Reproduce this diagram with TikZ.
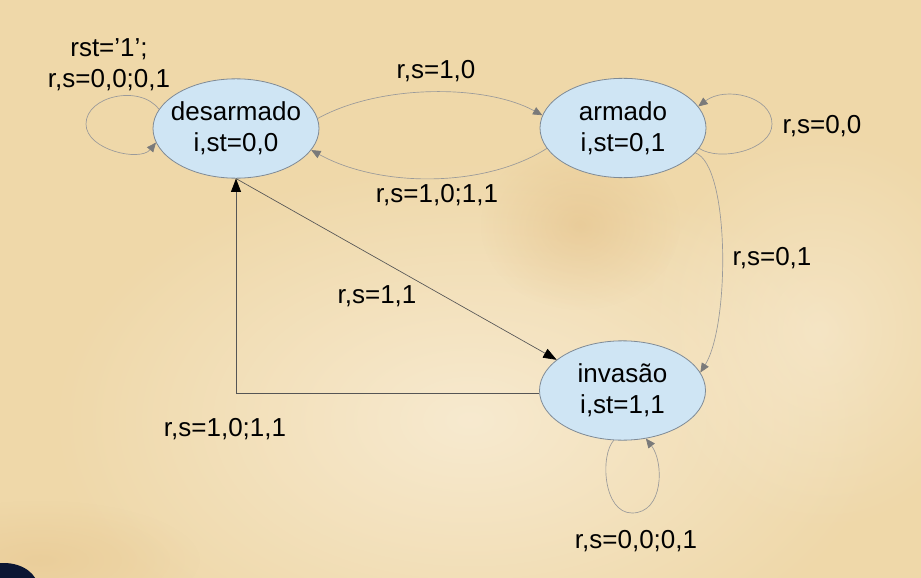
\documentclass[tikz,border=0pt]{standalone}
\usepackage{fontspec}
\setmainfont{Liberation Sans}
\usetikzlibrary{arrows.meta,shapes.geometric,fadings}
\tikzfading[name=softfade, inner color=transparent!0, outer color=transparent!100]
\definecolor{parch}{HTML}{EFD8A9}
\definecolor{parchlight}{HTML}{FAF0DC}
\definecolor{parchdark}{HTML}{DDB070}
\definecolor{statefill}{HTML}{CFE5F4}
\definecolor{stateline}{HTML}{7F8A95}
\definecolor{linegray}{HTML}{9A9A9A}
\definecolor{arrowgray}{HTML}{7A7A7A}
\definecolor{darkline}{HTML}{555555}
\definecolor{blob}{HTML}{0B1633}
\newcommand{\zl}[1]{\makebox[0pt][c]{#1}}
\begin{document}
\begin{tikzpicture}[x=0.75pt,y=-0.75pt,
  every node/.style={font=\fontsize{19.5}{23.5}\selectfont, text=black},
  state/.style={ellipse, draw=stateline, line width=0.6pt, fill=statefill,
    minimum width=124.5pt, minimum height=74.5pt, inner sep=0pt, align=center},
  lbl/.style={anchor=base, inner sep=0pt},
  softedge/.style={draw=linegray, line width=0.5pt,
    -{Triangle[length=7pt,width=6pt,color=arrowgray]}},
  hardedge/.style={draw=darkline, line width=0.5pt,
    -{Triangle[length=10pt,width=7.5pt,color=black]}}
]
% background
\useasboundingbox (0,0) rectangle (921,578);
\fill[parch] (0,0) rectangle (921,578);
\fill[parchlight, opacity=0.75, path fading=softfade] (470,420) ellipse (420 and 260);
\fill[parchlight, opacity=0.5, path fading=softfade] (820,330) ellipse (180 and 200);
\fill[parchdark, opacity=0.35, path fading=softfade] (580,225) ellipse (100 and 85);
\fill[parchdark, opacity=0.25, path fading=softfade] (40,560) ellipse (160 and 60);
\fill[blob] (4,588) ellipse (34 and 25);

% states
\node[state] (des) at (236,128.5) {\zl{desarmado}\\\zl{i,st=0,0}};
\node[state] (arm) at (623,128) {\zl{armado}\\\zl{i,st=0,1}};
\node[state] (inv) at (622.5,390.5) {\zl{invasão}\\\zl{i,st=1,1}};

% transitions
\draw[softedge] (des.7) .. controls (380,84) and (485,84) .. (arm.171);
\draw[softedge] (arm.195) .. controls (485,188) and (380,188) .. (des.-16);
\draw[softedge] (des.166) .. controls (140,84) and (86,96) .. (86,124)
  .. controls (86,150) and (140,162) .. (des.190);
\draw[softedge] (arm.-15) .. controls (720,162) and (772,150) .. (772,124)
  .. controls (772,96) and (725,86) .. (arm.16);
\draw[softedge] (arm.-19) .. controls (730,165) and (730,325) .. (inv.13);
\draw[softedge] (inv.-100) .. controls (600,455) and (603,513) .. (632,513)
  .. controls (664,513) and (664,462) .. (inv.-64);
\draw[hardedge] (des.south) -- (inv.155);
\draw[hardedge] (inv.182) -| (des.south);

% labels
\node[align=center, inner sep=0pt] (l1) at (109,65) {rst=’1’;\\r,s=0,0;0,1};
\node[lbl] (l2) at (436,78) {r,s=1,0};
\node[lbl] (l3) at (437,202) {r,s=1,0;1,1};
\node[lbl] (l4) at (822,133) {r,s=0,0};
\node[lbl] (l5) at (772,265) {r,s=0,1};
\node[lbl] (l6) at (377,303) {r,s=1,1};
\node[lbl] (l7) at (225,436) {r,s=1,0;1,1};
\node[lbl] (l8) at (636,548) {r,s=0,0;0,1};
\end{tikzpicture}
\end{document}
